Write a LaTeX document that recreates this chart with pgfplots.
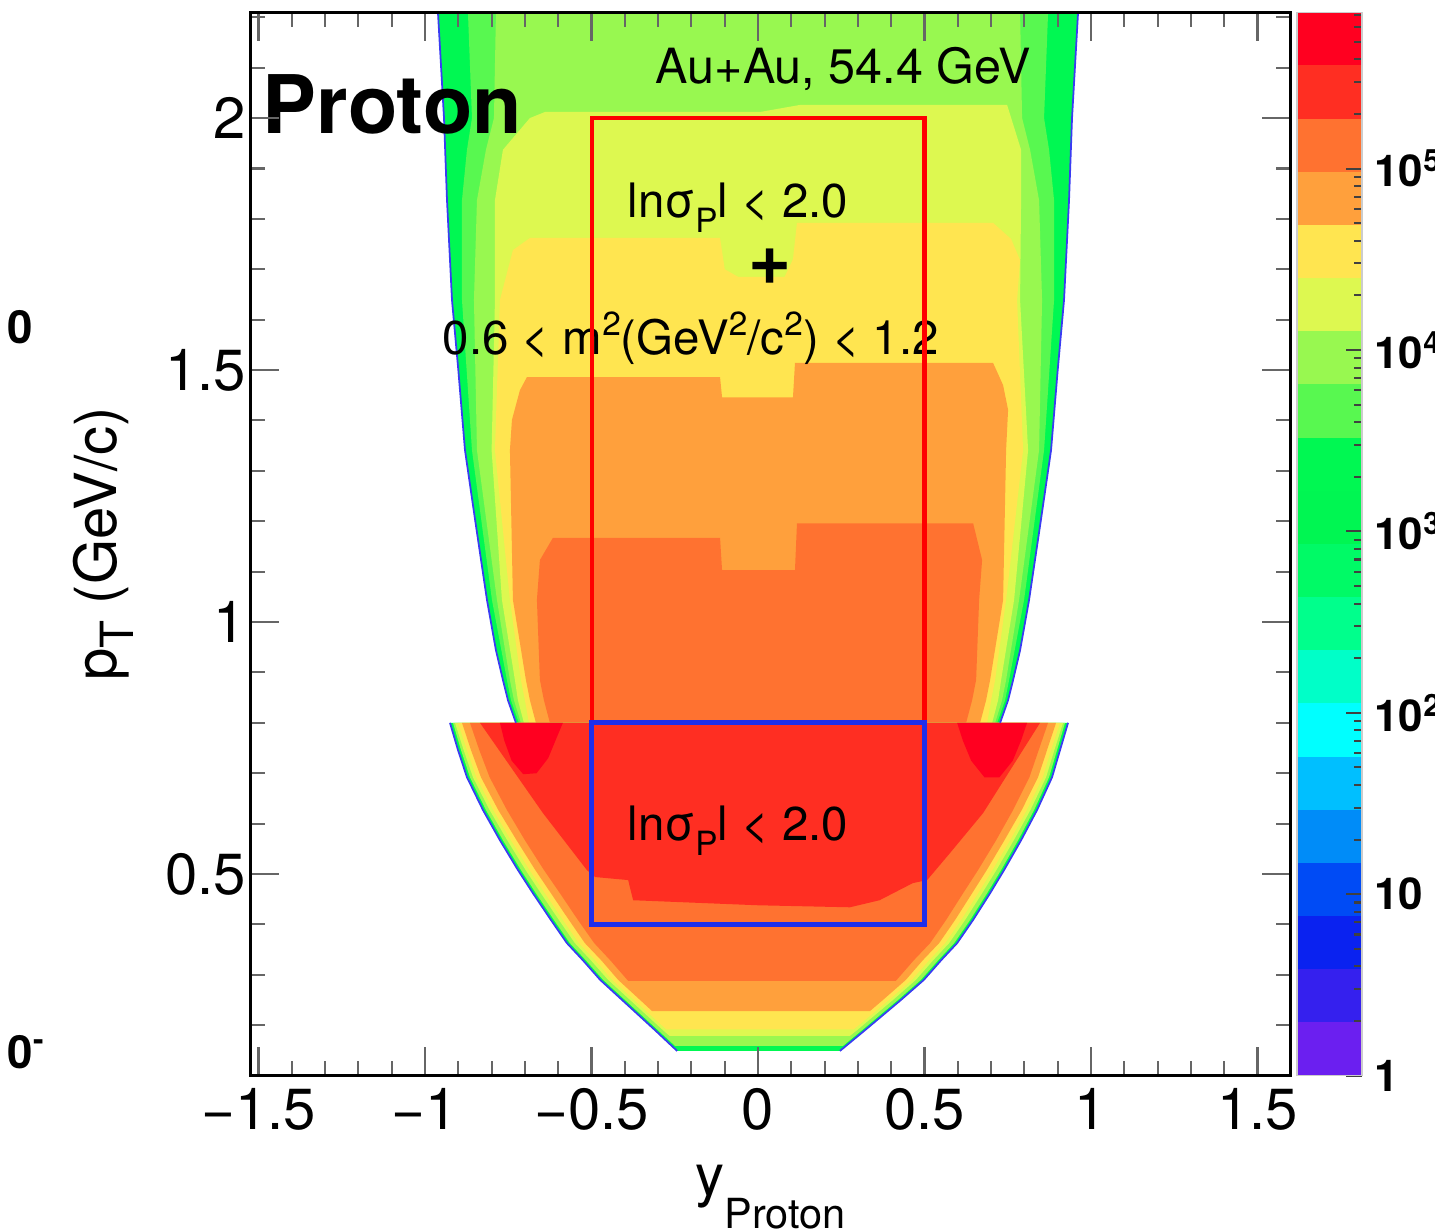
\documentclass[border=0pt]{standalone}
\usepackage{pgfplots}
\pgfplotsset{compat=1.18}
\usepackage{fontspec}
\setmainfont{TeX Gyre Heros}
\definecolor{k0}{HTML}{6B1FF0}
\definecolor{k1}{HTML}{3520EE}
\definecolor{k2}{HTML}{0A22F0}
\definecolor{k3}{HTML}{004BF5}
\definecolor{k4}{HTML}{008CF8}
\definecolor{k5}{HTML}{00BFFF}
\definecolor{k6}{HTML}{00FFFF}
\definecolor{k7}{HTML}{00FFC8}
\definecolor{k8}{HTML}{00FF8C}
\definecolor{k9}{HTML}{00FA66}
\definecolor{k10}{HTML}{00F652}
\definecolor{k11}{HTML}{00F852}
\definecolor{k12}{HTML}{58F850}
\definecolor{k13}{HTML}{98F850}
\definecolor{k14}{HTML}{DDF850}
\definecolor{k15}{HTML}{FFE550}
\definecolor{k16}{HTML}{FFA03C}
\definecolor{k17}{HTML}{FF7230}
\definecolor{k18}{HTML}{FF2E22}
\definecolor{k19}{HTML}{FF0020}
\definecolor{fringe}{HTML}{3A3CF2}
\definecolor{boxred}{HTML}{FF0000}
\definecolor{boxblue}{HTML}{1F2EEB}
\newcommand{\sub}[1]{\raisebox{-4.3pt}{\fontsize{9.5}{10}\selectfont #1}}
\newcommand{\sups}[1]{\raisebox{5.5pt}{\fontsize{9.5}{10}\selectfont #1}}
\begin{document}
\begin{tikzpicture}
\path[use as bounding box] (0,0) rectangle (14.35,-12.29);
\begin{axis}[
  at={(2.502cm,-0.122cm)}, anchor=north west, scale only axis,
  width=10.406cm, height=10.634cm,
  xmin=-1.525, xmax=1.6, ymin=0.1, ymax=2.21,
  axis on top,
  xtick={-1.5,-1,-0.5,0,0.5,1,1.5},
  xticklabels={−1.5,−1,−0.5,0,0.5,1,1.5},
  minor xtick={-1.4,-1.3,-1.2,-1.1,-0.9,-0.8,-0.7,-0.6,-0.4,-0.3,-0.2,-0.1,0.1,0.2,0.3,0.4,0.6,0.7,0.8,0.9,1.1,1.2,1.3,1.4},
  ytick={0.5,1,1.5,2}, yticklabels={0.5,1,1.5,2},
  minor ytick={0.2,0.3,0.4,0.6,0.7,0.8,0.9,1.1,1.2,1.3,1.4,1.6,1.7,1.8,1.9,2.1,2.2},
  tick pos=both, tick align=inside,
  major tick length=0.29cm, minor tick length=0.145cm,
  tick style={black!60, line width=0.6pt},
  axis line style={line width=0.85pt},
  tick label style={font=\fontsize{16.5}{18}\selectfont},
  yticklabel style={xshift=0.08cm},
  xlabel={y\raisebox{-9.4pt}{\fontsize{11.8}{12}\selectfont Proton}},
  xlabel style={at={(axis description cs:0.5,-0.1123)}, anchor=base, font=\fontsize{16.5}{18}\selectfont},
  ylabel={p\raisebox{-5pt}{\fontsize{13}{13}\selectfont T} (GeV/c)},
  ylabel style={at={(axis description cs:-0.1288,0.5)}, anchor=base, font=\fontsize{16.5}{18}\selectfont},
]
% ---------- upper region (pT > 0.8) ----------
\addplot[fill=k11, draw=none] coordinates {(-0.727,0.8) (-0.751,0.845) (-0.766,0.885) (-0.787,0.944) (-0.814,1.044) (-0.849,1.2) (-0.880,1.341) (-0.900,1.5) (-0.919,1.639) (-0.934,1.837) (-0.943,2.0) (-0.961,2.208) (-0.965,2.3) (0.965,2.3) (0.961,2.208) (0.943,2.0) (0.934,1.837) (0.919,1.639) (0.900,1.5) (0.880,1.341) (0.849,1.2) (0.814,1.044) (0.787,0.944) (0.766,0.885) (0.751,0.845) (0.727,0.8)};
\addplot[fill=k12, draw=none] coordinates {(-0.718,0.8) (-0.742,0.845) (-0.754,0.885) (-0.799,1.044) (-0.859,1.341) (-0.889,1.639) (-0.889,1.837) (-0.874,1.937) (-0.859,2.0) (-0.871,2.208) (-0.875,2.3) (0.875,2.3) (0.871,2.208) (0.859,2.0) (0.874,1.937) (0.889,1.837) (0.889,1.639) (0.859,1.341) (0.799,1.044) (0.754,0.885) (0.742,0.845) (0.718,0.8)};
\addplot[fill=k13, draw=none] coordinates {(-0.712,0.8) (-0.733,0.845) (-0.745,0.885) (-0.784,1.044) (-0.844,1.341) (-0.853,1.639) (-0.844,1.837) (-0.817,1.937) (-0.793,2.0) (-0.787,2.208) (-0.787,2.3) (0.787,2.3) (0.787,2.208) (0.793,2.0) (0.817,1.937) (0.844,1.837) (0.853,1.639) (0.844,1.341) (0.784,1.044) (0.745,0.885) (0.733,0.845) (0.712,0.8)};
\addplot[fill=k14, draw=none] coordinates {(-0.703,0.8) (-0.721,0.845) (-0.730,0.885) (-0.769,1.044) (-0.800,1.341) (-0.790,1.639) (-0.790,1.837) (-0.766,1.937) (-0.685,2.0) (-0.640,2.012) (0.006,2.012) (0.126,2.026) (0.748,2.026) (0.790,1.937) (0.790,1.837) (0.787,1.639) (0.811,1.341) (0.769,1.044) (0.730,0.885) (0.721,0.845) (0.703,0.8)};
\addplot[fill=k15, draw=none] coordinates {(-0.688,0.8) (-0.700,0.845) (-0.712,0.885) (-0.745,1.044) (-0.790,1.341) (-0.775,1.639) (-0.736,1.738) (-0.685,1.762) (-0.114,1.762) (-0.100,1.700) (-0.060,1.685) (0.080,1.685) (0.105,1.720) (0.117,1.792) (0.706,1.792) (0.760,1.760) (0.787,1.718) (0.778,1.639) (0.796,1.341) (0.745,1.044) (0.712,0.885) (0.700,0.845) (0.688,0.8)};
\addplot[fill=k16, draw=none] coordinates {(-0.667,0.8) (-0.685,0.845) (-0.697,0.885) (-0.736,1.044) (-0.745,1.341) (-0.739,1.401) (-0.715,1.460) (-0.694,1.486) (-0.114,1.486) (-0.108,1.446) (0.105,1.446) (0.111,1.514) (0.706,1.514) (0.736,1.470) (0.751,1.421) (0.745,1.341) (0.736,1.044) (0.697,0.885) (0.685,0.845) (0.667,0.8)};
\addplot[fill=k17, draw=none] coordinates {(-0.625,0.8) (-0.643,0.845) (-0.655,0.885) (-0.664,1.044) (-0.655,1.123) (-0.616,1.167) (-0.114,1.167) (-0.108,1.103) (0.111,1.103) (0.117,1.196) (0.646,1.196) (0.673,1.123) (0.664,1.044) (0.655,0.885) (0.643,0.845) (0.625,0.8)};
% ---------- lower region (pT < 0.8) ----------
\addplot[fill=k11, draw=none] coordinates {(-0.925,0.8) (-0.901,0.746) (-0.874,0.692) (-0.826,0.627) (-0.775,0.567) (-0.721,0.508) (-0.676,0.462) (-0.622,0.409) (-0.574,0.363) (-0.526,0.329) (-0.474,0.290) (-0.408,0.250) (-0.375,0.230) (-0.309,0.190) (-0.243,0.149) (0.246,0.149) (0.321,0.190) (0.393,0.230) (0.429,0.250) (0.498,0.290) (0.550,0.329) (0.598,0.363) (0.646,0.409) (0.697,0.462) (0.739,0.508) (0.790,0.567) (0.838,0.627) (0.883,0.692) (0.907,0.746) (0.931,0.8)};
\addplot[fill=k13, draw=none] coordinates {(-0.916,0.8) (-0.892,0.746) (-0.865,0.692) (-0.817,0.627) (-0.766,0.567) (-0.712,0.508) (-0.667,0.462) (-0.613,0.409) (-0.565,0.363) (-0.517,0.329) (-0.465,0.290) (-0.399,0.250) (-0.366,0.230) (-0.300,0.190) (-0.249,0.159) (0.255,0.159) (0.312,0.190) (0.384,0.230) (0.420,0.250) (0.489,0.290) (0.541,0.329) (0.589,0.363) (0.637,0.409) (0.688,0.462) (0.730,0.508) (0.781,0.567) (0.829,0.627) (0.874,0.692) (0.898,0.746) (0.922,0.8)};
\addplot[fill=k14, draw=none] coordinates {(-0.910,0.8) (-0.884,0.746) (-0.856,0.692) (-0.806,0.627) (-0.753,0.567) (-0.698,0.508) (-0.652,0.462) (-0.598,0.409) (-0.550,0.363) (-0.502,0.329) (-0.450,0.290) (-0.384,0.250) (-0.351,0.230) (-0.285,0.190) (-0.266,0.179) (0.276,0.179) (0.297,0.190) (0.369,0.230) (0.405,0.250) (0.474,0.290) (0.526,0.329) (0.574,0.363) (0.622,0.409) (0.673,0.462) (0.716,0.508) (0.768,0.567) (0.818,0.627) (0.865,0.692) (0.890,0.746) (0.916,0.8)};
\addplot[fill=k15, draw=none] coordinates {(-0.901,0.8) (-0.874,0.746) (-0.846,0.692) (-0.795,0.627) (-0.742,0.567) (-0.686,0.508) (-0.640,0.462) (-0.586,0.409) (-0.538,0.363) (-0.489,0.329) (-0.438,0.290) (-0.372,0.250) (-0.339,0.230) (-0.276,0.192) (0.288,0.192) (0.357,0.230) (0.393,0.250) (0.462,0.290) (0.514,0.329) (0.562,0.363) (0.610,0.409) (0.661,0.462) (0.704,0.508) (0.757,0.567) (0.807,0.627) (0.855,0.692) (0.880,0.746) (0.907,0.8)};
\addplot[fill=k16, draw=none] coordinates {(-0.889,0.8) (-0.862,0.746) (-0.832,0.692) (-0.780,0.627) (-0.725,0.567) (-0.669,0.508) (-0.622,0.462) (-0.568,0.409) (-0.520,0.363) (-0.471,0.329) (-0.420,0.290) (-0.354,0.250) (-0.318,0.228) (0.336,0.228) (0.375,0.250) (0.444,0.290) (0.495,0.329) (0.544,0.363) (0.592,0.409) (0.643,0.462) (0.687,0.508) (0.740,0.567) (0.792,0.627) (0.841,0.692) (0.868,0.746) (0.895,0.8)};
\addplot[fill=k17, draw=none] coordinates {(-0.865,0.8) (-0.837,0.746) (-0.806,0.692) (-0.754,0.627) (-0.700,0.567) (-0.643,0.508) (-0.595,0.462) (-0.541,0.409) (-0.492,0.363) (-0.444,0.329) (-0.390,0.288) (0.414,0.288) (0.468,0.329) (0.517,0.363) (0.565,0.409) (0.616,0.462) (0.661,0.508) (0.715,0.567) (0.766,0.627) (0.815,0.692) (0.843,0.746) (0.871,0.8)};
\addplot[fill=k18, draw=none] coordinates {(-0.835,0.8) (-0.646,0.621) (-0.514,0.508) (-0.489,0.494) (-0.390,0.488) (-0.375,0.448) (0,0.438) (0.276,0.434) (0.365,0.448) (0.465,0.482) (0.508,0.488) (0.577,0.542) (0.676,0.621) (0.847,0.8)};
\addplot[fill=k19, draw=none] coordinates {(-0.775,0.8) (-0.762,0.765) (-0.740,0.725) (-0.705,0.698) (-0.665,0.700) (-0.630,0.730) (-0.605,0.770) (-0.586,0.8)};
\addplot[fill=k19, draw=none] coordinates {(0.598,0.8) (0.615,0.765) (0.640,0.725) (0.680,0.692) (0.725,0.692) (0.765,0.725) (0.790,0.765) (0.808,0.8)};
% ---------- acceptance fringe ----------
\addplot[color=fringe, line width=0.5pt] coordinates {(-0.727,0.8) (-0.751,0.845) (-0.766,0.885) (-0.787,0.944) (-0.814,1.044) (-0.849,1.2) (-0.880,1.341) (-0.900,1.5) (-0.919,1.639) (-0.934,1.837) (-0.943,2.0) (-0.961,2.208) (-0.965,2.3)};
\addplot[color=fringe, line width=0.5pt] coordinates {(0.727,0.8) (0.751,0.845) (0.766,0.885) (0.787,0.944) (0.814,1.044) (0.849,1.2) (0.880,1.341) (0.900,1.5) (0.919,1.639) (0.934,1.837) (0.943,2.0) (0.961,2.208) (0.965,2.3)};
\addplot[color=fringe, line width=0.5pt] coordinates {(-0.925,0.8) (-0.901,0.746) (-0.874,0.692) (-0.826,0.627) (-0.775,0.567) (-0.721,0.508) (-0.676,0.462) (-0.622,0.409) (-0.574,0.363) (-0.526,0.329) (-0.474,0.290) (-0.408,0.250) (-0.375,0.230) (-0.309,0.190) (-0.243,0.149)};
\addplot[color=fringe, line width=0.5pt] coordinates {(0.931,0.8) (0.907,0.746) (0.883,0.692) (0.838,0.627) (0.790,0.567) (0.739,0.508) (0.697,0.462) (0.646,0.409) (0.598,0.363) (0.550,0.329) (0.498,0.290) (0.429,0.250) (0.393,0.230) (0.321,0.190) (0.246,0.149)};
% ---------- text ----------
\node[anchor=base west, inner sep=0pt, font=\fontsize{13.8}{15}\selectfont] at (axis cs:-0.309,2.069) {Au+Au, 54.4 GeV};
\node[anchor=base west, inner sep=0pt, font=\fontsize{13.5}{15}\selectfont] at (axis cs:-0.393,1.802) {lnσ\sub{P}l < 2.0};
\node[anchor=center, font=\bfseries\fontsize{21}{22}\selectfont] at (axis cs:0.036,1.706) {+};
\node[anchor=base west, inner sep=0pt, font=\fontsize{13.5}{15}\selectfont] at (axis cs:-0.949,1.530) {0.6 < m\sups{2}(GeV\sups{2}/c\sups{2}) < 1.2};
\node[anchor=base west, inner sep=0pt, font=\fontsize{13.5}{15}\selectfont] at (axis cs:-0.393,0.567) {lnσ\sub{P}l < 2.0};
\node[anchor=base west, inner sep=0pt, font=\bfseries\fontsize{23}{25}\selectfont] at (axis cs:-1.489,1.970) {Proton};
% ---------- selection boxes ----------
\addplot[color=boxred, line width=1.15pt, line cap=rect] coordinates {(-0.5,0.8) (-0.5,2) (0.5,2) (0.5,0.8) (-0.5,0.8)};
\addplot[color=boxblue, line width=1.45pt, line cap=rect] coordinates {(-0.5,0.4) (-0.5,0.8) (0.5,0.8) (0.5,0.4) (-0.5,0.4)};
\end{axis}
% ---------- colour scale ----------
\begin{axis}[
  at={(12.97cm,-0.122cm)}, anchor=north west, scale only axis,
  width=0.65cm, height=10.634cm,
  xmin=0, xmax=1, ymin=1, ymax=727800, ymode=log,
  xtick=\empty, ytick pos=right, yticklabel pos=right,
  ytick={1,10,100,1000,10000,100000},
  yticklabels={1,10,10\textsuperscript{2},10\textsuperscript{3},10\textsuperscript{4},10\textsuperscript{5}},
  minor ytick={2,3,4,5,6,7,8,9,20,30,40,50,60,70,80,90,200,300,400,500,600,700,800,900,2000,3000,4000,5000,6000,7000,8000,9000,20000,30000,40000,50000,60000,70000,80000,90000,200000,300000,400000,500000,600000,700000},
  tick align=inside,
  major tick length=0.16cm, minor tick length=0.08cm,
  tick style={black!75, line width=0.6pt},
  axis line style={black!20, line width=0.3pt},
  axis on top,
  yticklabel style={font=\bfseries\fontsize{12.5}{14}\selectfont, anchor=west},
]
\addplot[fill=k0, draw=none] coordinates {(0,1) (1,1) (1,1.965) (0,1.965)};
\addplot[fill=k1, draw=none] coordinates {(0,1.965) (1,1.965) (1,3.857) (0,3.857)};
\addplot[fill=k2, draw=none] coordinates {(0,3.857) (1,3.857) (1,7.574) (0,7.574)};
\addplot[fill=k3, draw=none] coordinates {(0,7.574) (1,7.574) (1,14.87) (0,14.87)};
\addplot[fill=k4, draw=none] coordinates {(0,14.87) (1,14.87) (1,29.21) (0,29.21)};
\addplot[fill=k5, draw=none] coordinates {(0,29.21) (1,29.21) (1,57.36) (0,57.36)};
\addplot[fill=k6, draw=none] coordinates {(0,57.36) (1,57.36) (1,112.6) (0,112.6)};
\addplot[fill=k7, draw=none] coordinates {(0,112.6) (1,112.6) (1,221.2) (0,221.2)};
\addplot[fill=k8, draw=none] coordinates {(0,221.2) (1,221.2) (1,434.3) (0,434.3)};
\addplot[fill=k9, draw=none] coordinates {(0,434.3) (1,434.3) (1,853.1) (0,853.1)};
\addplot[fill=k10, draw=none] coordinates {(0,853.1) (1,853.1) (1,1675) (0,1675)};
\addplot[fill=k11, draw=none] coordinates {(0,1675) (1,1675) (1,3290) (0,3290)};
\addplot[fill=k12, draw=none] coordinates {(0,3290) (1,3290) (1,6461) (0,6461)};
\addplot[fill=k13, draw=none] coordinates {(0,6461) (1,6461) (1,12690) (0,12690)};
\addplot[fill=k14, draw=none] coordinates {(0,12690) (1,12690) (1,24920) (0,24920)};
\addplot[fill=k15, draw=none] coordinates {(0,24920) (1,24920) (1,48930) (0,48930)};
\addplot[fill=k16, draw=none] coordinates {(0,48930) (1,48930) (1,96100) (0,96100)};
\addplot[fill=k17, draw=none] coordinates {(0,96100) (1,96100) (1,188700) (0,188700)};
\addplot[fill=k18, draw=none] coordinates {(0,188700) (1,188700) (1,370700) (0,370700)};
\addplot[fill=k19, draw=none] coordinates {(0,370700) (1,370700) (1,727800) (0,727800)};
\end{axis}
% ---------- cropped fragments of the neighbouring panel ----------
\node[anchor=base west, inner sep=0pt, font=\bfseries\fontsize{13}{14}\selectfont] at (0.07,-3.43) {0};
\node[anchor=base west, inner sep=0pt, font=\bfseries\fontsize{13}{14}\selectfont] at (0.07,-10.68) {0\raisebox{5pt}{\fontsize{9}{10}\selectfont -}};
\end{tikzpicture}
\end{document}
